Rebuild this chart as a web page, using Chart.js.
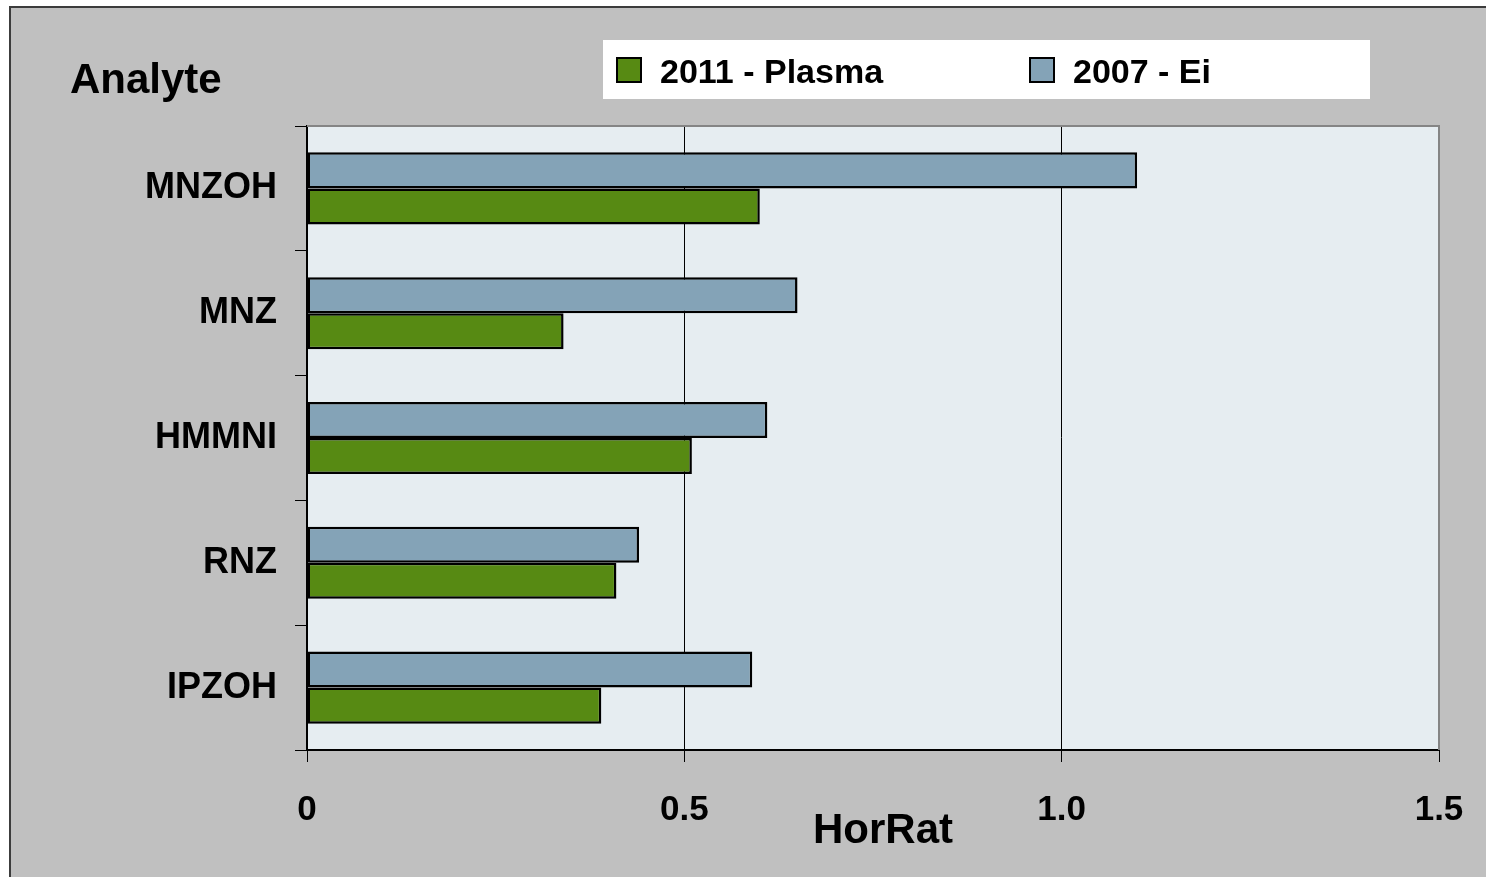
<!DOCTYPE html>
<html>
<head>
<meta charset="utf-8">
<script src="https://cdn.jsdelivr.net/npm/chart.js@4.4.1/dist/chart.umd.min.js"></script>
<style>
  html, body { margin: 0; padding: 0; background: #fff; }
</style>
</head>
<body>
<canvas id="myChart" width="1486" height="877"></canvas>
<script>
// data
let analytes = ["MNZOH", "MNZ", "HMMNI", "RNZ", "IPZOH"];
let horratEi = [1.10, 0.65, 0.61, 0.44, 0.59];
let horratPlasma = [0.60, 0.34, 0.51, 0.41, 0.39];
let xTickLabels = ["0", "0.5", "1.0", "1.5"];
let legendOrder = [1, 0]; // Plasma shown first in the legend

const FONT = "'Liberation Sans', Arial, sans-serif";

// background, frame, legend box and titles
const decor = {
  id: "decor",
  beforeDraw(chart) {
    const c = chart.ctx, a = chart.chartArea;
    c.save();
    c.fillStyle = "#ffffff";
    c.fillRect(0, 0, chart.width, chart.height);
    c.fillStyle = "#c0c0c0";
    c.fillRect(10, 7, chart.width - 10, chart.height - 7);
    c.strokeStyle = "#3c3c3c";
    c.lineWidth = 2;
    c.beginPath();
    c.moveTo(10, chart.height);
    c.lineTo(10, 7);
    c.lineTo(chart.width, 7);
    c.stroke();
    c.fillStyle = "#e6edf1";
    c.fillRect(a.left, a.top, a.right - a.left, a.bottom - a.top);
    c.restore();
  },
  afterDraw(chart) {
    const c = chart.ctx, a = chart.chartArea;
    c.save();
    // plot area top / right edge
    c.strokeStyle = "#858585";
    c.lineWidth = 2;
    c.beginPath();
    c.moveTo(a.left, a.top);
    c.lineTo(a.right, a.top);
    c.lineTo(a.right, a.bottom);
    c.stroke();

    // legend
    c.fillStyle = "#ffffff";
    c.fillRect(603, 40, 767, 59);
    const itemX = [617, 1030];
    c.font = "bold 34px " + FONT;
    c.textBaseline = "alphabetic";
    legendOrder.forEach((di, i) => {
      const ds = chart.data.datasets[di];
      c.fillStyle = ds.backgroundColor;
      c.fillRect(itemX[i], 58, 24, 24);
      c.strokeStyle = "#000";
      c.lineWidth = 2;
      c.strokeRect(itemX[i], 58, 24, 24);
      c.fillStyle = "#000";
      c.fillText(ds.label, itemX[i] + 43, 83);
    });

    // titles
    c.font = "bold 42px " + FONT;
    c.fillStyle = "#000";
    c.textAlign = "left";
    c.fillText("Analyte", 70, 93);
    c.textAlign = "center";
    c.fillText("HorRat", 883, 843);
    c.restore();
  }
};

let ctx = document.getElementById("myChart").getContext("2d");
let myChart = new Chart(ctx, {
  type: "bar",
  data: {
    labels: analytes,
    datasets: [{
      label: "2007 - Ei",
      data: horratEi,
      backgroundColor: "#84a3b7",
      borderColor: "#000",
      borderWidth: 2.5,
      borderSkipped: false
    }, {
      label: "2011 - Plasma",
      data: horratPlasma,
      backgroundColor: "#578a13",
      borderColor: "#000",
      borderWidth: 2.5,
      borderSkipped: false
    }]
  },
  options: {
    indexAxis: "y",
    responsive: false,
    animation: false,
    datasets: {
      bar: { categoryPercentage: 0.578, barPercentage: 1.0 }
    },
    layout: { padding: { top: 126, right: 47, left: 0, bottom: 0 } },
    plugins: {
      legend: { display: false },
      title: { display: false },
      tooltip: { enabled: false }
    },
    scales: {
      x: {
        min: 0,
        max: 1.5,
        afterFit(scale) {
          scale.height = 127;
          scale.paddingLeft = 0;
          scale.paddingRight = 0;
        },
        ticks: {
          stepSize: 0.5,
          padding: 27,
          color: "#000",
          font: { family: FONT, size: 35, weight: "bold" },
          callback: (v, i) => xTickLabels[i],
          maxRotation: 0
        },
        grid: { color: "#000", lineWidth: 1, tickLength: 12 },
        border: { color: "#000", width: 2 }
      },
      y: {
        afterFit(scale) {
          scale.width = 307;
          scale.paddingTop = 0;
          scale.paddingBottom = 0;
        },
        ticks: {
          padding: 18,
          color: "#000",
          font: { family: FONT, size: 36, weight: "bold" }
        },
        grid: { color: "#000", drawOnChartArea: false, drawTicks: true, tickLength: 12 },
        border: { color: "#000", width: 2 }
      }
    }
  },
  plugins: [decor]
});
</script>
</body>
</html>
